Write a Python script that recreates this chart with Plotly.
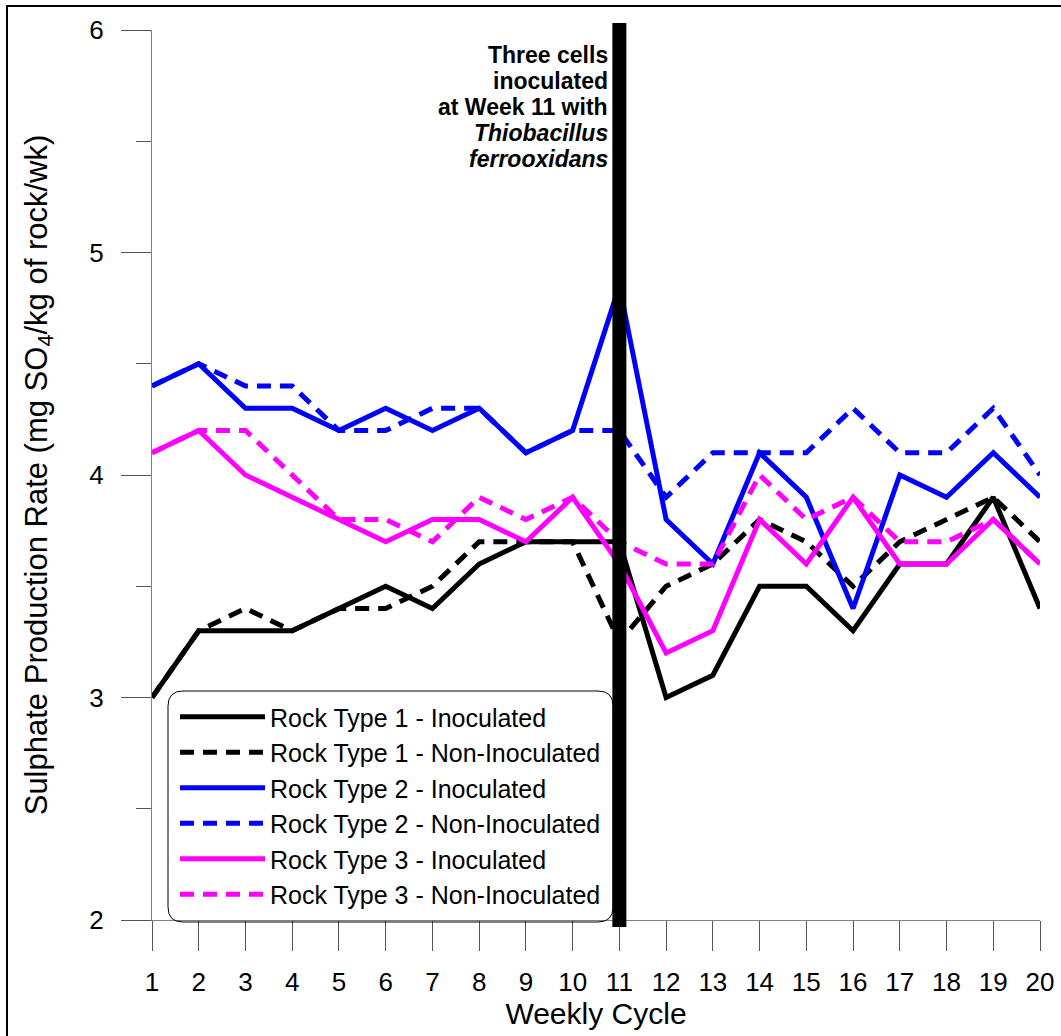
import plotly.graph_objects as go

weeks = list(range(1, 21))
r1_inoc = [3.0, 3.3, 3.3, 3.3, 3.4, 3.5, 3.4, 3.6, 3.7, 3.7, 3.7, 3.0, 3.1, 3.5, 3.5, 3.3, 3.6, 3.6, 3.9, 3.4]
r1_non = [3.0, 3.3, 3.4, 3.3, 3.4, 3.4, 3.5, 3.7, 3.7, 3.7, 3.25, 3.5, 3.6, 3.8, 3.7, 3.5, 3.7, 3.8, 3.9, 3.7]
r2_inoc = [4.4, 4.5, 4.3, 4.3, 4.2, 4.3, 4.2, 4.3, 4.1, 4.2, 4.85, 3.8, 3.6, 4.1, 3.9, 3.4, 4.0, 3.9, 4.1, 3.9]
r2_non = [4.4, 4.5, 4.4, 4.4, 4.2, 4.2, 4.3, 4.3, 4.1, 4.2, 4.2, 3.9, 4.1, 4.1, 4.1, 4.3, 4.1, 4.1, 4.3, 4.0]
r3_inoc = [4.1, 4.2, 4.0, 3.9, 3.8, 3.7, 3.8, 3.8, 3.7, 3.9, 3.6, 3.2, 3.3, 3.8, 3.6, 3.9, 3.6, 3.6, 3.8, 3.6]
r3_non = [4.1, 4.2, 4.2, 4.0, 3.8, 3.8, 3.7, 3.9, 3.8, 3.9, 3.7, 3.6, 3.6, 4.0, 3.8, 3.9, 3.7, 3.7, 3.8, 3.6]

series = [
    ("Rock Type 1 - Inoculated", r1_inoc, "#000000", "solid"),
    ("Rock Type 1 - Non-Inoculated", r1_non, "#000000", "14px,9px"),
    ("Rock Type 2 - Inoculated", r2_inoc, "#0000FF", "solid"),
    ("Rock Type 2 - Non-Inoculated", r2_non, "#0000FF", "14px,9px"),
    ("Rock Type 3 - Inoculated", r3_inoc, "#FF00FF", "solid"),
    ("Rock Type 3 - Non-Inoculated", r3_non, "#FF00FF", "14px,9px"),
]
inoculation_week = 11
annot_lines = ["<b>Three cells</b>", "<b>inoculated</b>", "<b>at Week 11 with</b>",
               "<b><i>Thiobacillus</i></b>", "<b><i>ferrooxidans</i></b>"]

FONT = "Liberation Sans, Arial, sans-serif"
W, H = 1061, 1036
ML, MR, MT, MB = 152, 21, 30, 116
PW, PH = W - ML - MR, H - MT - MB

def px2x(px):
    return (px - ML) / PW

def py2y(py):
    return (H - MB - py) / PH

fig = go.Figure()
for i, (name, vals, color, dash) in enumerate(series):
    fig.add_trace(go.Scatter(
        x=weeks, y=vals, mode="lines", name=name,
        line=dict(color=color, width=5, dash=dash),
        legendgroup=f"g{i}",
    ))

shapes = []
# rounded legend box
x0, x1, y0, y1 = px2x(168), px2x(613), py2y(922), py2y(691)
rx, ry = 15 / PW, 15 / PH
path = (f"M{x0+rx},{y1} L{x1-rx},{y1} Q{x1},{y1} {x1},{y1-ry} "
        f"L{x1},{y0+ry} Q{x1},{y0} {x1-rx},{y0} L{x0+rx},{y0} "
        f"Q{x0},{y0} {x0},{y0+ry} L{x0},{y1-ry} Q{x0},{y1} {x0+rx},{y1} Z")
shapes.append(dict(type="path", xref="paper", yref="paper", path=path,
                   line=dict(color="#000000", width=1), fillcolor="rgba(255,255,255,0)",
                   layer="above"))
# inoculation line
shapes.append(dict(type="line", xref="x", yref="paper", x0=inoculation_week, x1=inoculation_week,
                   y0=-0.008, y1=1.008, line=dict(color="#000000", width=14), layer="above"))
# outer frame
shapes.append(dict(type="rect", xref="paper", yref="paper", x0=px2x(7), x1=1.2,
                   y0=-0.3, y1=py2y(6), line=dict(color="#000000", width=2),
                   fillcolor="rgba(0,0,0,0)", layer="above"))

annotations = []
line_y = [55, 81, 107, 133, 159]
for txt, py in zip(annot_lines, line_y):
    annotations.append(dict(text=txt, xref="x", yref="paper", x=inoculation_week, xshift=-9,
                            y=py2y(py), xanchor="right", yanchor="middle", showarrow=False,
                            font=dict(family=FONT, size=23, color="#000000")))

fig.update_layout(
    width=W, height=H,
    margin=dict(l=ML, r=MR, t=MT, b=MB, autoexpand=False),
    paper_bgcolor="white", plot_bgcolor="white",
    font=dict(family=FONT, color="#000000"),
    shapes=shapes, annotations=annotations,
    showlegend=True,
    legend=dict(x=px2x(175), y=py2y(694), xanchor="left", yanchor="top",
                bgcolor="rgba(0,0,0,0)", borderwidth=0,
                font=dict(family=FONT, size=25, color="#000000"),
                itemwidth=85, tracegroupgap=0),
    xaxis=dict(range=[1, 20], tickvals=weeks, ticks="outside", ticklen=30,
               tickcolor="#555555", showline=True, linecolor="#808080", linewidth=1,
               showgrid=False, zeroline=False, automargin=False,
               ticklabelstandoff=9,
               tickfont=dict(family=FONT, size=26),
               title=dict(text="Weekly Cycle", font=dict(family=FONT, size=30), standoff=6)),
    yaxis=dict(range=[2, 6], dtick=1, ticks="outside", ticklen=30,
               tickcolor="#555555", showline=True, linecolor="#808080", linewidth=1,
               showgrid=False, zeroline=False, automargin=False,
               ticklabelstandoff=12,
               minor=dict(dtick=0.5, ticks="outside", ticklen=15, tickcolor="#555555"),
               tickfont=dict(family=FONT, size=26),
               title=dict(text="Sulphate Production Rate (mg SO<sub>4</sub>/kg of rock/wk)",
                          font=dict(family=FONT, size=31), standoff=32)),
)

fig.write_html("out.html", config={"displayModeBar": False},
               post_script="document.body.style.margin='0';")
